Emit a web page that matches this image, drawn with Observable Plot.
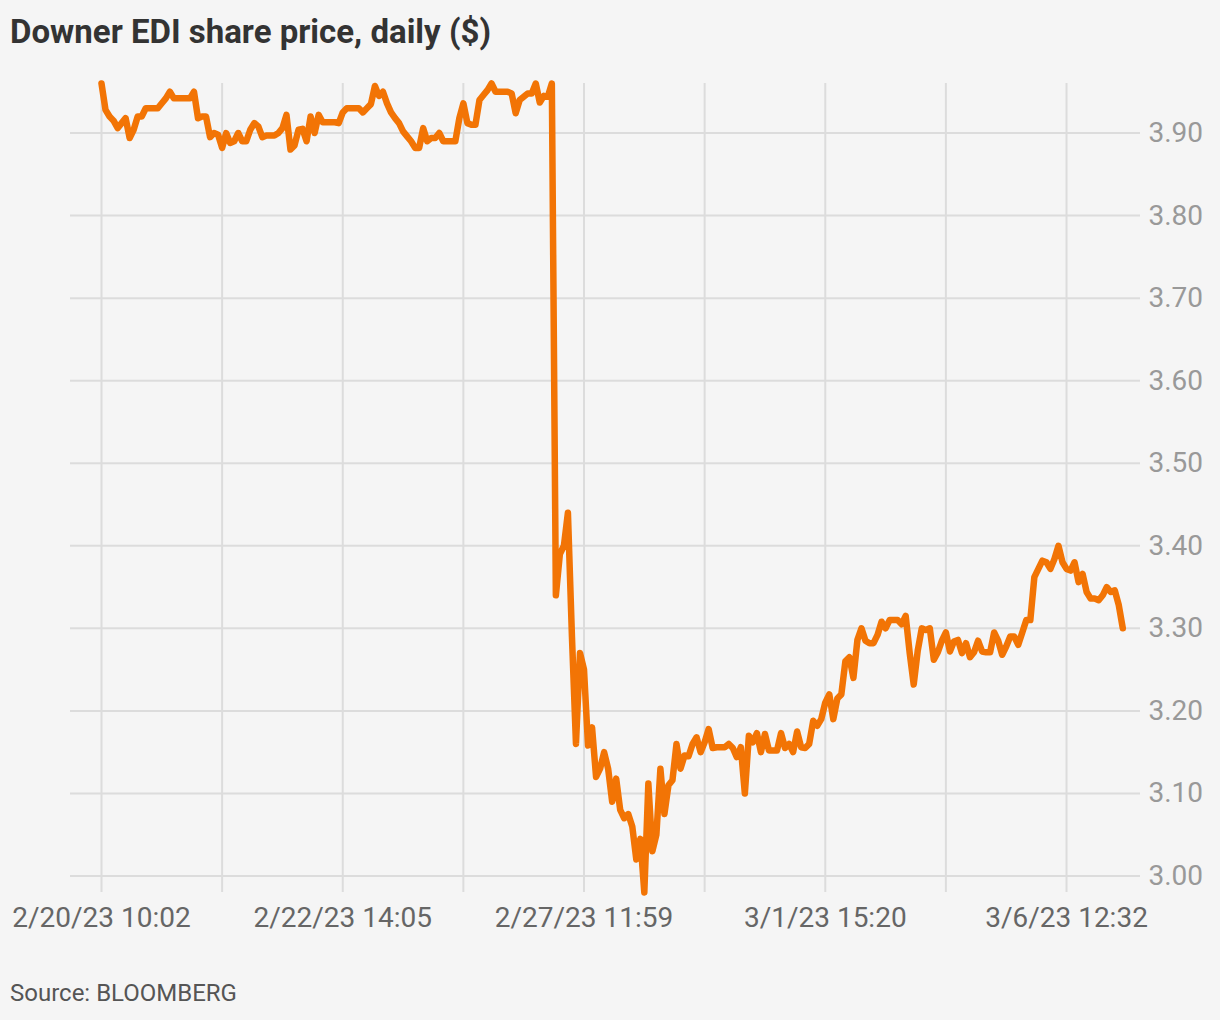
<!DOCTYPE html>
<html>
<head>
<meta charset="utf-8">
<script src="https://cdn.jsdelivr.net/npm/d3@7"></script>
<script src="https://cdn.jsdelivr.net/npm/@observablehq/plot@0.6"></script>
<style>
  html, body { margin: 0; padding: 0; background: #f5f5f5; }
  #wrap { position: relative; width: 1220px; height: 1020px; background: #f5f5f5; font-family: Roboto, "Noto Sans", sans-serif; }
  #title { position: absolute; left: 10px; top: 12px; font-size: 33px; font-weight: 700; color: #333; line-height: 40px; white-space: nowrap; }
  #chart { position: absolute; left: 0; top: 60px; }
  #source { position: absolute; left: 10px; top: 978px; font-size: 24px; color: #555; line-height: 30px; white-space: nowrap; }
</style>
</head>
<body>
<div id="wrap">
  <div id="title">Downer EDI share price, daily ($)</div>
  <div id="chart"></div>
  <div id="source">Source: BLOOMBERG</div>
</div>
<script>
// Share price, sampled in sequence (index = trading-time step)
const prices = [
  3.96,3.928,3.92,3.915,3.906,3.912,3.918,3.894,3.904,3.92,
  3.92,3.93,3.93,3.93,3.93,3.936,3.942,3.95,3.942,3.942,
  3.942,3.942,3.942,3.95,3.918,3.92,3.92,3.895,3.90,3.898,
  3.882,3.90,3.888,3.89,3.90,3.89,3.89,3.904,3.912,3.908,
  3.895,3.897,3.897,3.897,3.90,3.906,3.922,3.88,3.885,3.904,
  3.905,3.89,3.92,3.90,3.922,3.913,3.913,3.913,3.913,3.912,
  3.925,3.93,3.93,3.93,3.93,3.925,3.93,3.935,3.957,3.945,
  3.95,3.936,3.925,3.918,3.912,3.902,3.896,3.89,3.882,3.882,
  3.906,3.89,3.894,3.894,3.90,3.89,3.89,3.89,3.89,3.918,
  3.936,3.912,3.91,3.91,3.94,3.946,3.952,3.96,3.95,3.95,
  3.95,3.95,3.948,3.924,3.94,3.944,3.948,3.948,3.96,3.937,
  3.945,3.944,3.96,3.34,3.39,3.40,3.44,3.29,3.16,3.27,
  3.25,3.158,3.18,3.12,3.13,3.15,3.13,3.09,3.118,3.08,
  3.07,3.075,3.06,3.02,3.045,2.98,3.112,3.03,3.05,3.13,
  3.075,3.11,3.116,3.16,3.13,3.146,3.145,3.16,3.168,3.15,
  3.162,3.178,3.155,3.156,3.156,3.156,3.16,3.155,3.144,3.156,
  3.10,3.17,3.162,3.173,3.15,3.172,3.152,3.152,3.152,3.173,
  3.155,3.16,3.15,3.175,3.156,3.155,3.16,3.188,3.182,3.19,
  3.21,3.22,3.19,3.215,3.22,3.26,3.265,3.24,3.286,3.30,
  3.285,3.282,3.282,3.292,3.308,3.30,3.31,3.31,3.31,3.305,
  3.315,3.27,3.232,3.273,3.30,3.298,3.30,3.262,3.271,3.285,
  3.295,3.272,3.284,3.286,3.27,3.282,3.265,3.271,3.285,3.272,
  3.271,3.271,3.295,3.285,3.268,3.278,3.29,3.29,3.28,3.295,
  3.31,3.31,3.362,3.372,3.382,3.38,3.372,3.384,3.40,3.38,
  3.372,3.37,3.38,3.356,3.366,3.344,3.336,3.336,3.334,3.34,
  3.35,3.344,3.346,3.328,3.30
];

// Vertical gridlines (every 30 steps); labels on every other one
const gridIndex = [0, 30, 60, 90, 120, 150, 180, 210, 240];
const labelIndex = [0, 60, 120, 180, 240];
const labelText = ["2/20/23 10:02", "2/22/23 14:05", "2/27/23 11:59", "3/1/23 15:20", "3/6/23 12:32"];
const yTicks = [3.0, 3.1, 3.2, 3.3, 3.4, 3.5, 3.6, 3.7, 3.8, 3.9];

const data = prices.map((v, i) => ({i, v}));
const labelFor = new Map(labelIndex.map((k, j) => [k, labelText[j]]));

const chart = Plot.plot({
  width: 1220,
  height: 890,
  marginLeft: 70,
  marginRight: 80,
  marginTop: 23,
  marginBottom: 58,
  style: {fontFamily: "Roboto, 'Noto Sans', sans-serif", background: "transparent", overflow: "visible"},
  x: {domain: [-7.71, 258.4], axis: null},
  y: {domain: [2.98, 3.96], axis: null},
  marks: [
    Plot.ruleY(yTicks, {stroke: "#dcdcdc", strokeWidth: 2}),
    Plot.ruleX(gridIndex, {stroke: "#dcdcdc", strokeWidth: 2}),
    Plot.line(data, {x: "i", y: "v", stroke: "#f27405", strokeWidth: 6.5, strokeLinejoin: "round", strokeLinecap: "round"}),
    Plot.axisY(yTicks, {anchor: "right", label: null, tickSize: 0, tickPadding: 8, tickFormat: d => d.toFixed(2), fontSize: 28, color: "#999"}),
    Plot.axisX(labelIndex, {anchor: "bottom", label: null, tickSize: 0, tickPadding: 15, tickFormat: d => labelFor.get(d), fontSize: 28, color: "#666"})
  ]
});
document.getElementById("chart").appendChild(chart);
</script>
</body>
</html>
